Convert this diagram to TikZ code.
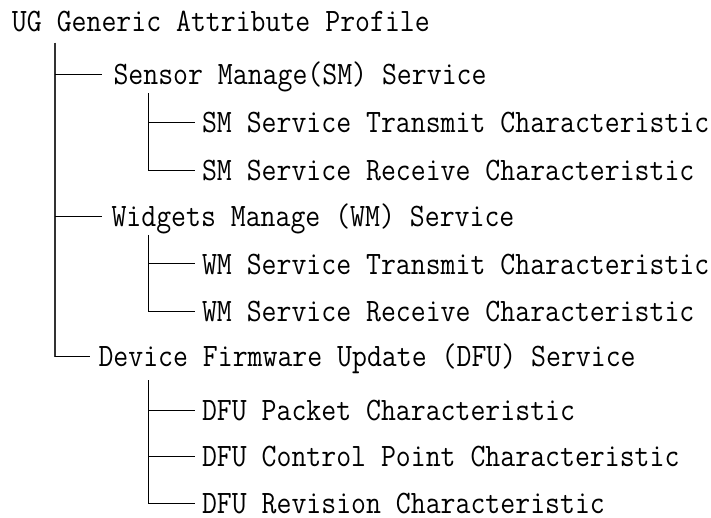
\documentclass[tikz,border=0pt]{standalone}
\usepackage{graphicx}
% condensed typewriter labels
\newcommand{\treelabel}[1]{\scalebox{0.886}[1]{#1}}
\begin{document}
\begin{tikzpicture}[x=1pt,y=-1pt,
  lbl/.style={anchor=base west, inner sep=0pt, outer sep=0pt,
    text height=20pt, text depth=0pt,
    font=\ttfamily\fontsize{32.7}{39}\selectfont},
  trunk/.style={line width=1.3pt, draw=black!80},
  branch/.style={line width=1pt, draw=black}]
\useasboundingbox (0,0) rectangle (711,518);

% labels
\node[lbl] (root)    at (12,31.7)    {\treelabel{UG Generic Attribute Profile}};
\node[lbl] (sm)      at (113.5,85)   {\treelabel{Sensor Manage(SM) Service}};
\node[lbl] (smtx)    at (202,132.3)  {\treelabel{SM Service Transmit Characteristic}};
\node[lbl] (smrx)    at (202,181)    {\treelabel{SM Service Receive Characteristic}};
\node[lbl] (wm)      at (111.5,226.7){\treelabel{Widgets Manage (WM) Service}};
\node[lbl] (wmtx)    at (202,274)    {\treelabel{WM Service Transmit Characteristic}};
\node[lbl] (wmrx)    at (202,321.7)  {\treelabel{WM Service Receive Characteristic}};
\node[lbl] (dfu)     at (98.5,366.7) {\treelabel{Device Firmware Update (DFU) Service}};
\node[lbl] (dfupkt)  at (202,420.7)  {\treelabel{DFU Packet Characteristic}};
\node[lbl] (dfuctl)  at (202,466.7)  {\treelabel{DFU Control Point Characteristic}};
\node[lbl] (dfurev)  at (202,513.3)  {\treelabel{DFU Revision Characteristic}};

% stem points of the trunks
\coordinate (rootstem) at (55,42.7);
\coordinate (smstem)   at (148,93.3);
\coordinate (wmstem)   at (148,235);
\coordinate (dfustem)  at (148,380);

% main trunk and service branches
\draw[trunk]  (rootstem) -- (rootstem |- dfu.west);
\draw[branch] (rootstem |- sm.west) -- ([xshift=-11.5pt]sm.west);
\draw[branch] (rootstem |- wm.west) -- ([xshift=-10pt]wm.west);
\draw[branch] (rootstem |- dfu.west) -- ([xshift=-8.5pt]dfu.west);

% sensor manage characteristics
\draw[branch] (smstem) |- ([xshift=-7pt]smrx.west);
\draw[branch] (smstem |- smtx.west) -- ([xshift=-7pt]smtx.west);

% widgets manage characteristics
\draw[branch] (wmstem) |- ([xshift=-7pt]wmrx.west);
\draw[branch] (wmstem |- wmtx.west) -- ([xshift=-7pt]wmtx.west);

% firmware update characteristics
\draw[branch] (dfustem) |- ([xshift=-7pt]dfurev.west);
\draw[branch] (dfustem |- dfupkt.west) -- ([xshift=-7pt]dfupkt.west);
\draw[branch] (dfustem |- dfuctl.west) -- ([xshift=-7pt]dfuctl.west);
\end{tikzpicture}
\end{document}
